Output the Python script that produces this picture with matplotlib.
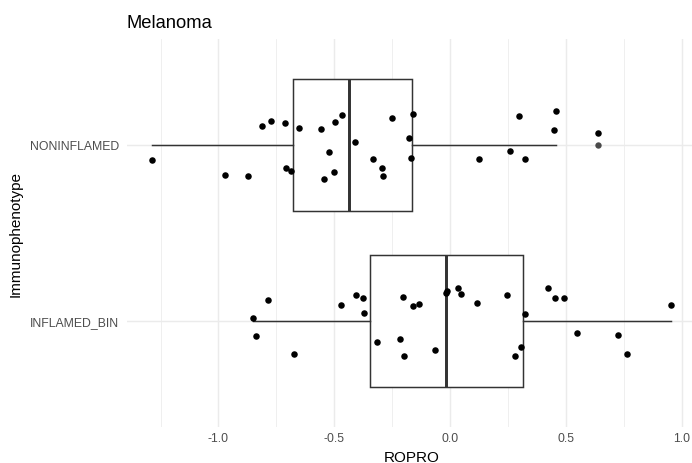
import matplotlib
matplotlib.use("Agg")
import matplotlib.pyplot as plt
from matplotlib.ticker import FixedLocator

plt.rcParams['font.family'] = ['Liberation Sans', 'DejaVu Sans']
plt.rcParams['axes.unicode_minus'] = False

# ---- data -------------------------------------------------------------
categories = ["INFLAMED_BIN", "NONINFLAMED"]

ropro_noninflamed = [-1.286, -0.972, -0.874, -0.812, -0.774, -0.712, -0.709, -0.686,
                     -0.654, -0.558, -0.546, -0.525, -0.503, -0.497, -0.467, -0.411,
                     -0.335, -0.296, -0.290, -0.253, -0.178, -0.170, -0.162, 0.125,
                     0.256, 0.296, 0.321, 0.447, 0.456, 0.637]
jitter_noninflamed = [-0.089, -0.170, -0.176, 0.108, 0.135, 0.121, -0.132, -0.149,
                      0.097, 0.087, -0.195, -0.041, -0.157, 0.127, 0.170, 0.015,
                      -0.081, -0.132, -0.178, 0.153, 0.040, -0.078, 0.172, -0.084,
                      -0.036, 0.165, -0.080, 0.085, 0.191, 0.066]

ropro_inflamed = [-0.852, -0.837, -0.785, -0.676, -0.472, -0.408, -0.375, -0.374,
                  -0.316, -0.218, -0.204, -0.200, -0.162, -0.135, -0.066, -0.019,
                  -0.013, 0.035, 0.046, 0.114, 0.246, 0.280, 0.305, 0.321,
                  0.421, 0.452, 0.492, 0.545, 0.725, 0.764, 0.952]
jitter_inflamed = [0.015, -0.089, 0.118, -0.191, 0.091, 0.149, 0.129, 0.045,
                   -0.119, -0.101, 0.136, -0.199, 0.085, 0.093, -0.163, 0.157,
                   0.170, 0.186, 0.153, 0.102, 0.146, -0.199, -0.146, 0.041,
                   0.184, 0.127, 0.127, -0.068, -0.078, -0.191, 0.089]

x_major = [-1.0, -0.5, 0.0, 0.5, 1.0]
x_minor = [-1.25, -0.75, -0.25, 0.25, 0.75]
x_ticklabels = ["-1.0", "-0.5", "0.0", "0.5", "1.0"]

# ---- figure -----------------------------------------------------------
W, H = 692, 464
fig = plt.figure(figsize=(W / 100, H / 100), dpi=100)
left_px, right_px, top_px, bottom_px = 127, 697, 40, 427.5
ax = fig.add_axes([left_px / W, 1 - bottom_px / H,
                   (right_px - left_px) / W, (bottom_px - top_px) / H])

line_col = "#333333"
grid_col = "#EBEBEB"

bp = ax.boxplot([ropro_inflamed, ropro_noninflamed], positions=[1, 2],
                orientation="horizontal", widths=0.75, whis=1.5,
                patch_artist=True, showcaps=False,
                boxprops=dict(facecolor="white", edgecolor=line_col, linewidth=1.07),
                medianprops=dict(color=line_col, linewidth=2.13),
                whiskerprops=dict(color=line_col, linewidth=1.07),
                flierprops=dict(marker="o", markerfacecolor="#4a4a4a",
                                markeredgecolor="none", markersize=4.6),
                zorder=2)

ax.scatter(ropro_inflamed, [1 + d for d in jitter_inflamed], s=22, c="black",
           linewidths=0, zorder=4)
ax.scatter(ropro_noninflamed, [2 + d for d in jitter_noninflamed], s=22, c="black",
           linewidths=0, zorder=4)

ax.set_xlim(-1.3947, 1.0643)
ax.set_ylim(0.4, 2.6)

ax.xaxis.set_major_locator(FixedLocator(x_major))
ax.xaxis.set_minor_locator(FixedLocator(x_minor))
ax.set_xticklabels(x_ticklabels)
ax.set_yticks([1, 2])
ax.set_yticklabels(categories)

ax.set_axisbelow(True)
ax.grid(which="major", axis="both", color=grid_col, linewidth=1.07, zorder=0)
ax.grid(which="minor", axis="x", color=grid_col, linewidth=0.55, zorder=0)

for s in ax.spines.values():
    s.set_visible(False)
ax.tick_params(axis="both", which="both", length=0)
ax.tick_params(axis="x", pad=3.7, labelsize=8.8, labelcolor="#4D4D4D")
ax.tick_params(axis="y", pad=5.8, labelsize=8.8, labelcolor="#4D4D4D")

ax.set_title("Melanoma", loc="left", fontsize=13.2, color="black", pad=8.4)

ax.set_xlabel("ROPRO", fontsize=11, color="black")
ax.xaxis.label.set_va("baseline")
ax.xaxis.set_label_coords(0.5, -35 / (bottom_px - top_px))

ax.set_ylabel("Immunophenotype", fontsize=11, color="black")
ax.yaxis.label.set_va("center")
ax.yaxis.label.set_ha("center")
ax.yaxis.set_label_coords((15.7 - left_px) / (right_px - left_px), 0.5)

fig.savefig("out.png", dpi=100)
